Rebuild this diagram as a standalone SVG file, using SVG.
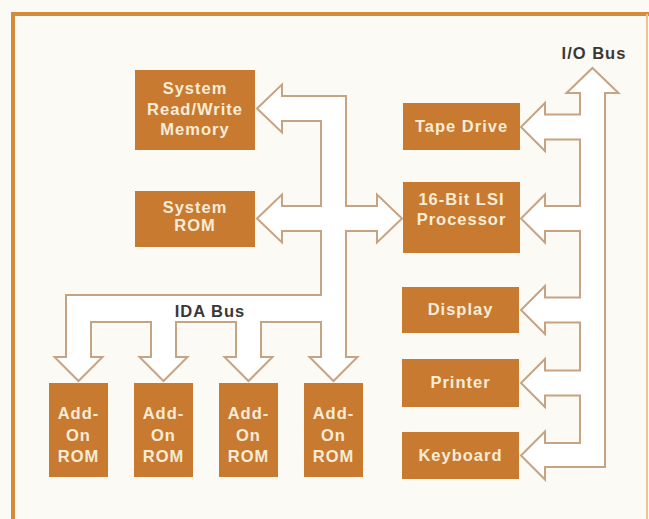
<svg xmlns="http://www.w3.org/2000/svg" width="649" height="519" viewBox="0 0 649 519">
  <defs>
    <linearGradient id="botFade" x1="0" y1="0" x2="1" y2="0">
      <stop offset="0" stop-color="#d38c3e"/>
      <stop offset="0.45" stop-color="#e0a560"/>
      <stop offset="0.6" stop-color="#f6e2b8"/>
      <stop offset="1" stop-color="#f6e2b8"/>
    </linearGradient>
  </defs>
  <style>
    .bg { fill: #fcfaf5; }
    .frame { stroke: #d38c3e; stroke-width: 4; fill: none; }
    .box { fill: #c97a31; }
    .bt { font-family: "Liberation Sans", Arial, sans-serif; font-weight: bold; font-size: 16.5px; letter-spacing: 1px; fill: #f6ecd6; text-anchor: middle; }
    .lbl { font-family: "Liberation Sans", Arial, sans-serif; font-weight: bold; font-size: 16.5px; letter-spacing: 1px; fill: #3a3836; text-anchor: middle; }
    .bus { fill: #ffffff; stroke: #c6a382; stroke-width: 2; stroke-linejoin: miter; }
  </style>

  <rect class="bg" x="0" y="0" width="649" height="519"/>

  <g id="frame">
    <line class="frame" x1="11" y1="14" x2="649" y2="14"/>
    <line class="frame" x1="13" y1="12" x2="13" y2="519"/>
    <line x1="11" y1="516.5" x2="649" y2="516.5" stroke="url(#botFade)" stroke-width="3"/>
    <line x1="647" y1="14" x2="647" y2="519" stroke="#eec38c" stroke-width="2"/>
  </g>

  <g id="connectors">
    <path id="ida-bus" class="bus" d="M257,108.5 L282,84.5 L282,96 L346,96 L346,206 L377,206 L377,194.5 L402,218.5 L377,242.5 L377,231 L346,231 L346,357 L357.5,357 L333.5,381 L309.5,357 L321,357 L321,322 L261,322 L261,357 L272.5,357 L248.5,381 L224.5,357 L236,357 L236,322 L176,322 L176,357 L187.5,357 L163.5,381 L139.5,357 L151,357 L151,322 L91,322 L91,357 L102.5,357 L78.5,381 L54.5,357 L66,357 L66,295 L321,295 L321,231 L282,231 L282,242.5 L257,218.5 L282,194.5 L282,206 L321,206 L321,121 L282,121 L282,132.5 Z"/>
    <path id="io-bus" class="bus" d="M592.5,68 L618.5,93 L605,93 L605,467 L545,467 L545,479.5 L521,455.5 L545,431.5 L545,443 L580,443 L580,395.5 L545,395.5 L545,407 L521,383 L545,359 L545,370.5 L580,370.5 L580,322.5 L545,322.5 L545,334 L521,310 L545,286 L545,297.5 L580,297.5 L580,231 L545,231 L545,242.5 L521,218.5 L545,194.5 L545,206 L580,206 L580,139.5 L545,139.5 L545,151 L521,127 L545,103 L545,114.5 L580,114.5 L580,93 L566.5,93 Z"/>
  </g>

  <g id="labels">
    <text class="lbl" x="594" y="59">I/O Bus</text>
    <text class="lbl" x="210" y="317">IDA Bus</text>
  </g>

  <g id="rw-memory">
    <rect class="box" x="135" y="70" width="120" height="80"/>
    <text class="bt" x="195" y="94">System</text>
    <text class="bt" x="195" y="114.5">Read/Write</text>
    <text class="bt" x="195" y="135">Memory</text>
  </g>

  <g id="system-rom">
    <rect class="box" x="135" y="191" width="120" height="56"/>
    <text class="bt" x="195" y="213">System</text>
    <text class="bt" x="195" y="231">ROM</text>
  </g>

  <g id="tape-drive">
    <rect class="box" x="403" y="103" width="117" height="47"/>
    <text class="bt" x="461.5" y="132">Tape Drive</text>
  </g>

  <g id="processor">
    <rect class="box" x="403" y="182" width="117" height="71"/>
    <text class="bt" x="461.5" y="205">16-Bit LSI</text>
    <text class="bt" x="461.5" y="225">Processor</text>
  </g>

  <g id="display">
    <rect class="box" x="402" y="287" width="117" height="46"/>
    <text class="bt" x="460.5" y="315">Display</text>
  </g>

  <g id="printer">
    <rect class="box" x="402" y="359" width="117" height="48"/>
    <text class="bt" x="460.5" y="388">Printer</text>
  </g>

  <g id="keyboard">
    <rect class="box" x="402" y="432" width="117" height="47"/>
    <text class="bt" x="460.5" y="461">Keyboard</text>
  </g>

  <g id="addon-rom-1">
    <rect class="box" x="49" y="383" width="59" height="94"/>
    <text class="bt" x="78.5" y="419">Add-</text>
    <text class="bt" x="78.5" y="441">On</text>
    <text class="bt" x="78.5" y="462">ROM</text>
  </g>

  <g id="addon-rom-2">
    <rect class="box" x="134" y="383" width="59" height="94"/>
    <text class="bt" x="163.5" y="419">Add-</text>
    <text class="bt" x="163.5" y="441">On</text>
    <text class="bt" x="163.5" y="462">ROM</text>
  </g>

  <g id="addon-rom-3">
    <rect class="box" x="219" y="383" width="59" height="94"/>
    <text class="bt" x="248.5" y="419">Add-</text>
    <text class="bt" x="248.5" y="441">On</text>
    <text class="bt" x="248.5" y="462">ROM</text>
  </g>

  <g id="addon-rom-4">
    <rect class="box" x="304" y="383" width="59" height="94"/>
    <text class="bt" x="333.5" y="419">Add-</text>
    <text class="bt" x="333.5" y="441">On</text>
    <text class="bt" x="333.5" y="462">ROM</text>
  </g>
</svg>
